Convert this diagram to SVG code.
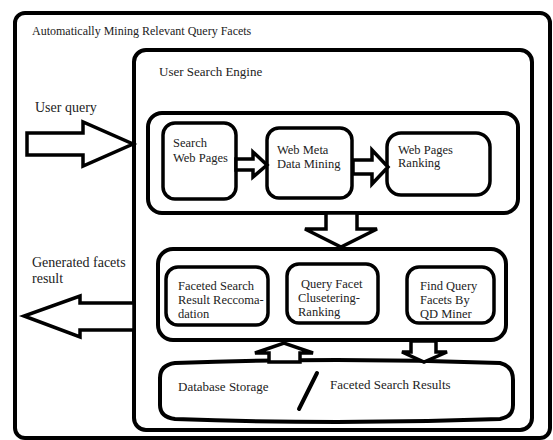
<svg xmlns="http://www.w3.org/2000/svg" width="553" height="440" viewBox="0 0 553 440">
<style>
.box{fill:none;stroke:#000;stroke-width:3.5;stroke-linejoin:round}
.big{fill:none;stroke:#000;stroke-width:4}
.arr{fill:#fff;stroke:#000;stroke-width:3.5;stroke-linejoin:miter}
text{font-family:"Liberation Serif","Times New Roman",serif;font-size:12.5px;fill:#222}
.lbl{font-size:14px}
</style>
<rect width="553" height="440" fill="#fff"/>
<g id="system">
<rect class="big" x="15" y="13" width="535" height="425" rx="10"/>
<text x="32" y="35" style="font-size:12px">Automatically Mining Relevant Query Facets</text>
</g>
<g id="engine">
<rect class="big" x="134" y="50" width="398" height="380" rx="12"/>
<text x="159" y="76" style="font-size:13px">User Search Engine</text>
</g>
<g id="top-stage">
<rect class="big" x="148" y="113" width="370" height="100" rx="14"/>
</g>
<g id="search-web-pages">
<rect class="box" x="163" y="123" width="73" height="76" rx="12"/>
<text x="173" y="147">Search</text>
<text x="173" y="162">Web Pages</text>
</g>
<g id="meta-mining">
<rect class="box" x="267" y="128" width="85" height="70" rx="12"/>
<text x="277" y="154">Web Meta</text>
<text x="277" y="168">Data Mining</text>
</g>
<g id="ranking">
<rect class="box" x="387" y="133" width="103" height="62" rx="14"/>
<text x="398" y="154">Web Pages</text>
<text x="398" y="167">Ranking</text>
</g>
<g id="bottom-stage">
<rect class="big" x="158" y="249" width="348" height="91" rx="15"/>
</g>
<g id="faceted-recommendation">
<rect class="box" x="166" y="267" width="102" height="58" rx="12"/>
<text x="178" y="290">Faceted Search</text>
<text x="178" y="304">Result Reccoma-</text>
<text x="178" y="318">dation</text>
</g>
<g id="clustering-ranking">
<rect class="box" x="287" y="264" width="91" height="59" rx="12"/>
<text x="301" y="288">Query Facet</text>
<text x="298" y="302">Clusetering-</text>
<text x="298" y="316">Ranking</text>
</g>
<g id="qd-miner">
<rect class="box" x="407" y="267" width="87" height="56" rx="12"/>
<text x="420" y="290">Find Query</text>
<text x="420" y="304">Facets By</text>
<text x="420" y="318">QD Miner</text>
</g>
<g id="storage">
<path class="big" d="M175 363 Q337 357 500 363 Q513 366 513 380 L513 405 Q513 417 500 419 Q337 425 175 419 Q160 417 160 405 L160 378 Q160 365 175 363 Z"/>
<text x="178" y="391" style="font-size:13px">Database Storage</text>
<text x="330" y="389" style="font-size:13px">Faceted Search Results</text>
<line x1="317" y1="373" x2="299" y2="409" stroke="#000" stroke-width="4" stroke-linecap="round"/>
</g>
<g id="user-query">
<text class="lbl" x="35" y="112">User query</text>
</g>
<g id="generated-facets">
<text class="lbl" x="32" y="267">Generated facets</text>
<text class="lbl" x="32" y="283">result</text>
</g>
<g id="connectors">
<polygon class="arr" points="27,133 83,133 83,122 133,144 83,166 83,155 27,155"/>
<polygon class="arr" points="134,303 80,303 80,296 24,316 80,337 80,330 134,330"/>
<polygon class="arr" points="236,159 253,159 253,152 267,165 253,177 253,170 236,170"/>
<polygon class="arr" points="353,160 372,160 372,150 388,167 372,184 372,174 353,174"/>
<polygon class="arr" points="326,213 357,213 357,229 377,229 341,247 305,229 326,229"/>
<polygon class="arr" points="269,362 269,353 255,353 284,343 313,353 300,353 300,362"/>
<polygon class="arr" points="411,341 436,341 436,352 447,352 424,362 402,352 411,352"/>
</g>
</svg>
